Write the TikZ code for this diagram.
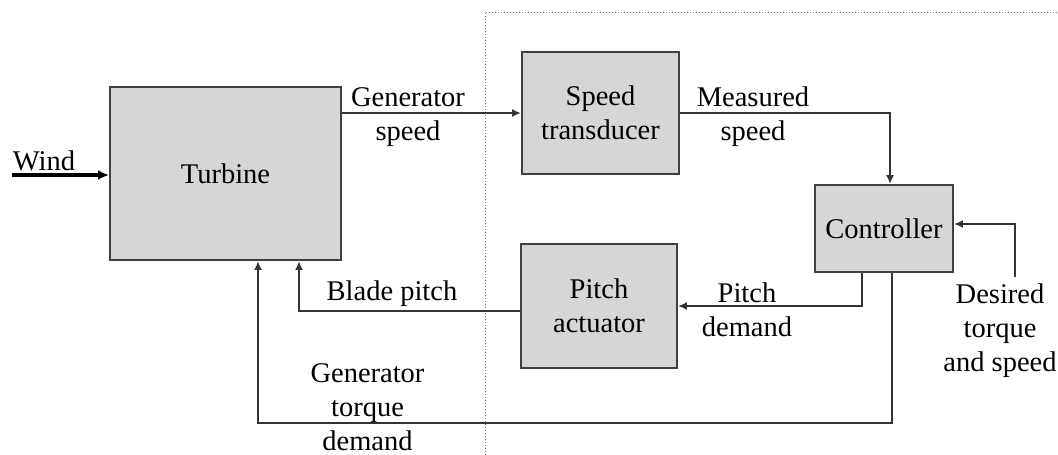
\documentclass[tikz,border=0pt]{standalone}
\usepackage{fontspec}
\setmainfont{Liberation Serif}
\usetikzlibrary{arrows.meta}

\begin{document}
\begin{tikzpicture}[x=1pt,y=-1pt,
    every node/.style={font=\fontsize{28.5}{34}\selectfont},
    block/.style={draw=black!75,line width=1.9pt,fill=black!16,align=center,inner sep=0pt},
    flow/.style={draw=black!80,line width=1.9pt,-{Latex[length=9pt,width=8pt]}},
    lbl/.style={align=center,inner sep=0pt}]
    \useasboundingbox (0,0) rectangle (1058,455);

    % controller region (dotted)
    \draw[black!55,dotted,line width=1pt] (485,455) -- (485,12) -- (1058,12);

    % blocks
    \node[block,minimum width=231,minimum height=173] (turbine)    at (225.5,173.5) {Turbine};
    \node[block,minimum width=157,minimum height=122] (transducer) at (600.5,113)   {Speed\\transducer};
    \node[block,minimum width=138,minimum height=87]  (controller) at (884,228.5)   {Controller};
    \node[block,minimum width=156,minimum height=124] (actuator)   at (599,306)     {Pitch\\actuator};

    % free ends
    \coordinate (wind)    at (12,175);
    \coordinate (desired) at (1015,277);

    % signals
    \draw[line width=3.5pt,-{Latex[length=11pt,width=10pt]}] (wind) -- (wind -| turbine.west);
    \draw[flow] (turbine.east |- transducer.west) -- (transducer.west);
    \draw[flow] (transducer.east) -| ([xshift=6pt]controller.north);
    \draw[flow] (desired) |- ([yshift=4.5pt]controller.east);
    \draw[flow] ([xshift=-22pt]controller.south) |- (actuator.east);
    \draw[flow] ([yshift=-5pt]actuator.west) -| ([xshift=73.5pt]turbine.south);
    \draw[flow] ([xshift=8pt]controller.south) -- ++(0,150) -| ([xshift=32.5pt]turbine.south);

    % labels
    \node[lbl] (lwind)    at (44,161)    {Wind};
    \node[lbl] (lgspeed)  at (408,117)   {Generator\\speed};
    \node[lbl] (lmspeed)  at (753,117)   {Measured\\speed};
    \node[lbl] (lpdemand) at (747,310)   {Pitch\\demand};
    \node[lbl] (lblade)   at (392,294)   {Blade pitch};
    \node[lbl] (ltorque)  at (367.5,407) {Generator\\torque\\demand};
    \node[lbl] (ldesired) at (1000,331)  {Desired\\torque\\and speed};
\end{tikzpicture}
\end{document}
